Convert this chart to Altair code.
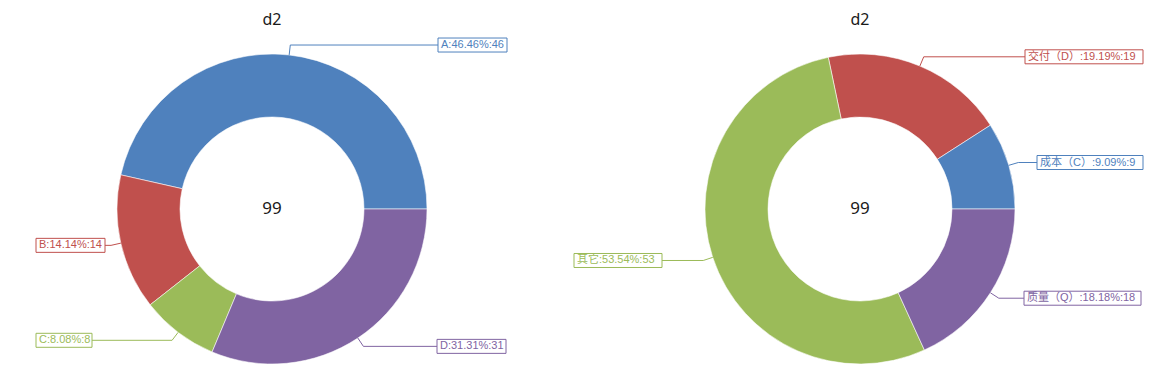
import altair as alt
import pandas as pd
import numpy as np

# ---------------- data ----------------
chart_titles = ["d2", "d2"]

left_categories = ["A", "B", "C", "D"]
left_values = [46, 14, 8, 31]
left_colors = ["#4F81BD", "#C0504D", "#9BBB59", "#8064A2"]
left_order = [3, 2, 1, 0]          # clockwise drawing order starting at 3 o'clock

right_categories = ["交付（D）", "成本（C）", "其它", "质量（Q）"]
right_values = [19, 9, 53, 18]
right_colors = ["#C0504D", "#4F81BD", "#9BBB59", "#8064A2"]
right_order = [2, 3, 1, 0]

# ---------------- layout ----------------
LEFT_W, RIGHT_W, PANEL_H = 552, 588, 355
LEFT_CENTER = (264, 201)
RIGHT_CENTER = (300, 201)
R_OUT, R_IN, R_ELBOW = 155, 92, 165
BOX_H = 14
left_box_x = [430, 28, 28, 429]
left_box_w = [69, 69, 56, 69]
right_box_x = [465, 477, 14, 464]
right_box_w = [118, 106, 88, 117]

LABEL_FONT = "Liberation Sans, Noto Sans CJK SC, sans-serif"
MAIN_FONT = "Noto Sans, Noto Sans CJK SC, sans-serif"


def build_pie(title, cats, vals, colors, order, box_x, box_w, center, width):
    cx, cy = center
    total = sum(vals)
    df = pd.DataFrame({"cat": cats, "value": vals, "order": order})
    df["label"] = [f"{c}:{v / total * 100:.2f}%:{v}" for c, v in zip(cats, vals)]
    d = df.sort_values("order")
    cum = d["value"].cumsum()
    start = np.pi / 2 + 2 * np.pi * (cum - d["value"]) / total
    mid = start + np.pi * d["value"] / total
    df.loc[d.index, "mid"] = mid
    df["x0"] = cx + R_OUT * np.sin(df["mid"])
    df["y0"] = cy - R_OUT * np.cos(df["mid"])
    df["x1"] = cx + R_ELBOW * np.sin(df["mid"])
    df["y1"] = cy - R_ELBOW * np.cos(df["mid"])
    df["bx"] = box_x
    df["bx2"] = [a + b for a, b in zip(box_x, box_w)]
    df["x2"] = np.where(np.sin(df["mid"]) >= 0, df["bx"], df["bx2"])
    df["by"] = df["y1"] - BOX_H / 2
    df["by2"] = df["y1"] + BOX_H / 2
    df["tx"] = df["bx"] + 3

    color = alt.Color("cat:N", scale=alt.Scale(domain=cats, range=colors), legend=None)
    xs = alt.Scale(domain=[0, width], range=[0, width], nice=False, zero=False)
    ys = alt.Scale(domain=[0, PANEL_H], range=[0, PANEL_H], nice=False, zero=False)

    base = alt.Chart(df)
    arcs = base.mark_arc(innerRadius=R_IN, outerRadius=R_OUT, stroke="#ffffff",
                         strokeWidth=0.8, strokeOpacity=0.7).encode(
        theta=alt.Theta("value:Q", stack=True,
                        scale=alt.Scale(domain=[0, total], range=[np.pi / 2, np.pi / 2 + 2 * np.pi],
                                        nice=False)),
        order=alt.Order("order:Q"),
        color=color,
        x=alt.value(cx),
        y=alt.value(cy),
    )
    lead1 = base.mark_rule(strokeWidth=1).encode(
        x=alt.X("x0:Q", scale=xs, axis=None), y=alt.Y("y0:Q", scale=ys, axis=None),
        x2="x1:Q", y2="y1:Q", color=color)
    lead2 = base.mark_rule(strokeWidth=1).encode(
        x=alt.X("x1:Q", scale=xs, axis=None), y=alt.Y("y1:Q", scale=ys, axis=None),
        x2="x2:Q", y2="y1:Q", color=color)
    boxes = base.mark_rect(fill="#ffffff", strokeWidth=1).encode(
        x=alt.X("bx:Q", scale=xs, axis=None), x2="bx2:Q",
        y=alt.Y("by:Q", scale=ys, axis=None), y2="by2:Q",
        stroke=alt.Stroke("cat:N", scale=alt.Scale(domain=cats, range=colors), legend=None))
    texts = base.mark_text(align="left", baseline="middle", fontSize=11, font=LABEL_FONT).encode(
        x=alt.X("tx:Q", scale=xs, axis=None), y=alt.Y("y1:Q", scale=ys, axis=None),
        text="label:N", color=color)

    info = pd.DataFrame({"title": [title], "total": [str(total)]})
    ttl = alt.Chart(info).mark_text(fontSize=16, font=MAIN_FONT, color="#1a1a1a",
                                    baseline="alphabetic").encode(
        x=alt.value(cx), y=alt.value(17), text="title:N")
    ctr = alt.Chart(info).mark_text(fontSize=17, font=MAIN_FONT, color="#1a1a1a",
                                    baseline="middle").encode(
        x=alt.value(cx), y=alt.value(cy), text="total:N")

    return alt.layer(arcs, lead1, lead2, boxes, texts, ttl, ctr).properties(
        width=width, height=PANEL_H)


left = build_pie(chart_titles[0], left_categories, left_values, left_colors, left_order,
                 left_box_x, left_box_w, LEFT_CENTER, LEFT_W)
right = build_pie(chart_titles[1], right_categories, right_values, right_colors, right_order,
                  right_box_x, right_box_w, RIGHT_CENTER, RIGHT_W)

chart = alt.hconcat(left, right, spacing=0).resolve_scale(
    color="independent", stroke="independent"
).properties(
    padding=0, background="#ffffff"
).configure_view(stroke=None, strokeWidth=0)

chart.save("out.html", embed_options={"renderer": "svg", "actions": False})
